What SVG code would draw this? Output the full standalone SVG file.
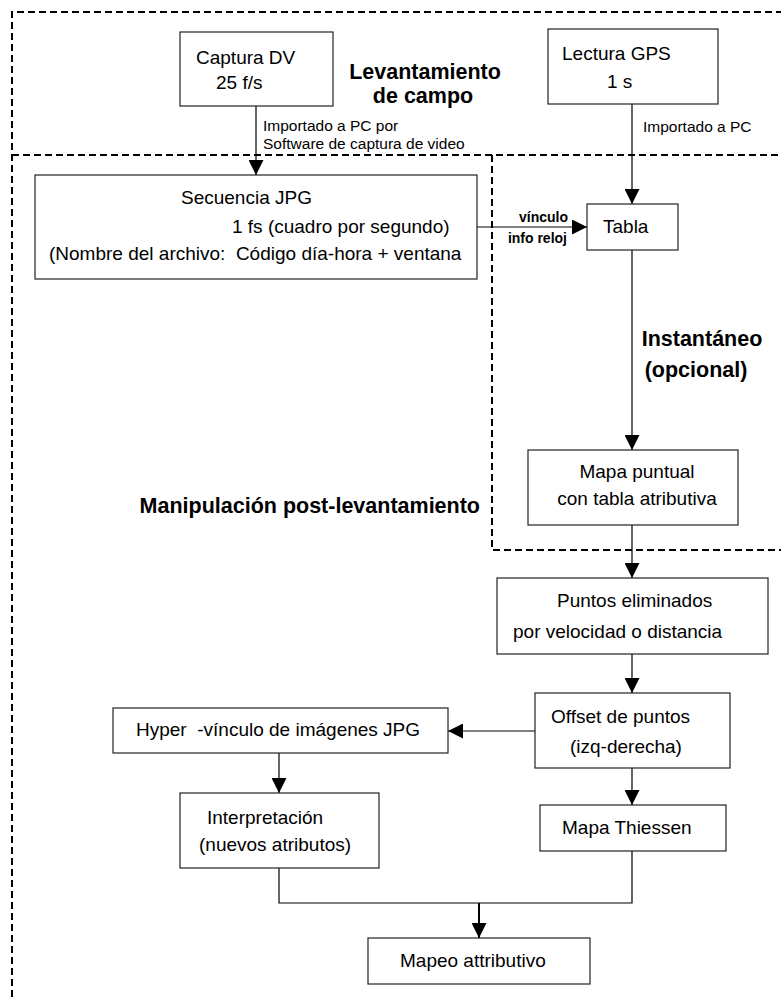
<svg xmlns="http://www.w3.org/2000/svg" width="781" height="997" viewBox="0 0 781 997">
<style>
text{font-family:"Liberation Sans",Arial,sans-serif;fill:#000}
.t{font-size:19px}
.s{font-size:15.5px}
.b{font-weight:bold;font-size:21.5px}
.v{font-weight:bold;font-size:14px}
.box{fill:#fff;stroke:#222;stroke-width:1.2}
.dash{fill:none;stroke:#000;stroke-width:2;stroke-dasharray:7 4}
.c{fill:none;stroke:#000;stroke-width:1.2}
</style>
<defs>
<marker id="ah" markerWidth="15" markerHeight="15" refX="15" refY="7.5" orient="auto" markerUnits="userSpaceOnUse">
<path d="M0,0 L15,7.5 L0,15 Z" fill="#000"/>
</marker>
</defs>
<g id="regions">
<path class="dash" d="M12,997 V12 H781"/>
<path class="dash" d="M12,155 H781"/>
<path class="dash" d="M492,155 V550 H781"/>
<text class="b" x="425" y="79" text-anchor="middle">Levantamiento</text>
<text class="b" x="423" y="103" text-anchor="middle">de campo</text>
<text class="b" x="480" y="513" text-anchor="end">Manipulación post-levantamiento</text>
</g>
<g id="connectors">
<path class="c" d="M256,106 V175" marker-end="url(#ah)"/>
<text class="s" x="263" y="131">Importado a PC por</text>
<text class="s" x="263" y="149">Software de captura de video</text>
<path class="c" d="M632,104 V204" marker-end="url(#ah)"/>
<text class="s" x="643" y="132">Importado a PC</text>
<path class="c" d="M477,227 H587" marker-end="url(#ah)"/>
<text class="v" x="568" y="222" text-anchor="end">vínculo</text>
<text class="v" x="567" y="243" text-anchor="end">info reloj</text>
<path class="c" d="M632,250 V450" marker-end="url(#ah)"/>
<text class="b" x="702" y="346" text-anchor="middle">Instantáneo</text>
<text class="b" x="696" y="377" text-anchor="middle">(opcional)</text>
<path class="c" d="M632,525 V578" marker-end="url(#ah)"/>
<path class="c" d="M632,654 V693" marker-end="url(#ah)"/>
<path class="c" d="M535,731 H448" marker-end="url(#ah)"/>
<path class="c" d="M279,753 V793" marker-end="url(#ah)"/>
<path class="c" d="M632,768 V805" marker-end="url(#ah)"/>
<path class="c" d="M279,868 V903 H632 V851"/>
<path d="M479,903 V938" fill="none" stroke="#000" stroke-width="2" marker-end="url(#ah)"/>
</g>
<g id="captura">
<rect class="box" x="180" y="32" width="153" height="74"/>
<text class="t" x="196" y="64">Captura DV</text>
<text class="t" x="216" y="89">25 f/s</text>
</g>
<g id="gps">
<rect class="box" x="548" y="29" width="170" height="75"/>
<text class="t" x="562" y="60">Lectura GPS</text>
<text class="t" x="607" y="88">1 s</text>
</g>
<g id="secuencia">
<rect class="box" x="35" y="175" width="442" height="104"/>
<text class="t" x="181" y="204">Secuencia JPG</text>
<text class="t" x="232" y="233">1 fs (cuadro por segundo)</text>
<text class="t" x="49" y="260" xml:space="preserve">(Nombre del archivo:  Código día-hora + ventana</text>
</g>
<g id="tabla">
<rect class="box" x="587" y="204" width="91" height="46"/>
<text class="t" x="603" y="233">Tabla</text>
</g>
<g id="mapa-puntual">
<rect class="box" x="528" y="450" width="210" height="75"/>
<text class="t" x="637" y="478" text-anchor="middle">Mapa puntual</text>
<text class="t" x="637" y="505" text-anchor="middle">con tabla atributiva</text>
</g>
<g id="puntos">
<rect class="box" x="497" y="578" width="271" height="76"/>
<text class="t" x="557" y="607">Puntos eliminados</text>
<text class="t" x="513" y="638">por velocidad o distancia</text>
</g>
<g id="offset">
<rect class="box" x="535" y="693" width="195" height="75"/>
<text class="t" x="551" y="723">Offset de puntos</text>
<text class="t" x="570" y="753">(izq-derecha)</text>
</g>
<g id="hyper">
<rect class="box" x="113" y="708" width="335" height="45"/>
<text class="t" x="136" y="736" xml:space="preserve">Hyper  -vínculo de imágenes JPG</text>
</g>
<g id="interpretacion">
<rect class="box" x="180" y="793" width="199" height="75"/>
<text class="t" x="207" y="824">Interpretación</text>
<text class="t" x="199" y="851">(nuevos atributos)</text>
</g>
<g id="thiessen">
<rect class="box" x="540" y="805" width="186" height="46"/>
<text class="t" x="562" y="834">Mapa Thiessen</text>
</g>
<g id="mapeo">
<rect class="box" x="368" y="938" width="222" height="46"/>
<text class="t" x="400" y="967">Mapeo attributivo</text>
</g>
</svg>
